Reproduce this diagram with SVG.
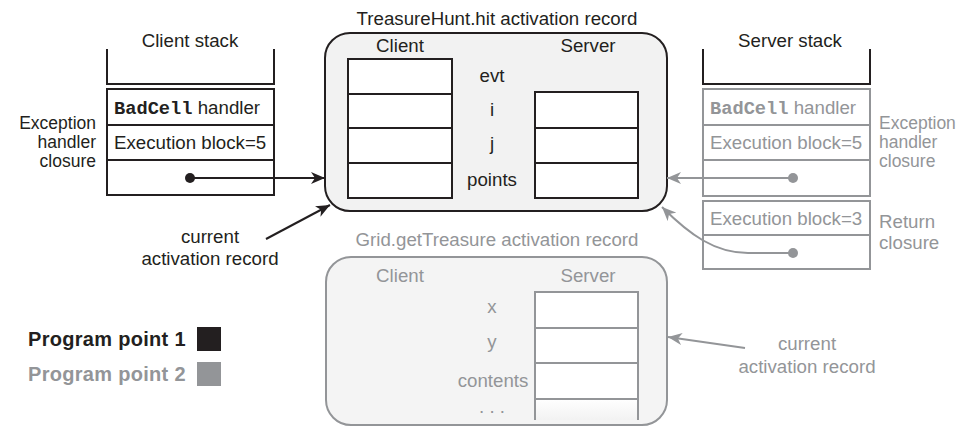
<svg xmlns="http://www.w3.org/2000/svg" width="966" height="427" viewBox="0 0 966 427">
<style>
text{font-family:"Liberation Sans",Arial,sans-serif;font-size:18.7px;fill:#231f20}
.g{fill:#939598}
.mid{text-anchor:middle}
.end{text-anchor:end}
.sm{font-size:17.5px}
.mono{font-family:"Liberation Mono","Courier New",monospace;font-weight:bold}
.bold{font-weight:bold;font-size:20px;letter-spacing:0.3px}
.dk{stroke:#231f20;stroke-width:2;fill:none}
.gr{stroke:#939598;stroke-width:2;fill:none}
</style>
<defs>
<marker id="ab" markerUnits="userSpaceOnUse" markerWidth="16" markerHeight="12" refX="14" refY="6" orient="auto">
<path d="M0,0 L14,6 L0,12 L4,6 z" fill="#231f20"/>
</marker>
<marker id="ag" markerUnits="userSpaceOnUse" markerWidth="16" markerHeight="12" refX="14" refY="6" orient="auto">
<path d="M0,0 L14,6 L0,12 L4,6 z" fill="#939598"/>
</marker>
<linearGradient id="fade" x1="0" y1="0" x2="0" y2="1">
<stop offset="0" stop-color="#fff"/>
<stop offset="1" stop-color="#f2f2f2"/>
</linearGradient>
</defs>

<g id="client-stack">
<text class="mid" x="190" y="47">Client stack</text>
<path class="dk" d="M107,49 V84 H274 V49"/>
<rect class="dk" x="107" y="89" width="167" height="106" style="fill:#fff"/>
<path class="dk" d="M107,125 H274 M107,160 H274"/>
<text x="114" y="114"><tspan class="mono">BadCell</tspan> handler</text>
<text x="114" y="149">Execution block=5</text>
<circle cx="190" cy="178" r="5" fill="#231f20"/>
<text class="end sm" x="96" y="129">Exception</text>
<text class="end sm" x="96" y="148">handler</text>
<text class="end sm" x="96" y="167">closure</text>
</g>

<g id="treasurehunt-record">
<text class="mid" x="497" y="25">TreasureHunt.hit activation record</text>
<rect class="dk" x="325" y="33" width="342" height="178" rx="25" style="fill:#f2f2f2"/>
<text class="mid" x="400" y="52">Client</text>
<text class="mid" x="588" y="52">Server</text>
<rect class="dk" x="348" y="59" width="104" height="139" style="fill:#fff"/>
<path class="dk" d="M348,94 H452 M348,128 H452 M348,163 H452"/>
<rect class="dk" x="535" y="92" width="103" height="106" style="fill:#fff"/>
<path class="dk" d="M535,128 H638 M535,163 H638"/>
<text class="mid" x="492" y="82">evt</text>
<text class="mid" x="492" y="116">i</text>
<text class="mid" x="492" y="150">j</text>
<text class="mid" x="492" y="186">points</text>
</g>

<g id="server-stack">
<text class="mid" x="790" y="47">Server stack</text>
<path class="dk" d="M703,49 V84 H870 V49"/>
<rect class="gr" x="703" y="89" width="167" height="107" style="fill:#fff"/>
<path class="gr" d="M703,125 H870 M703,160 H870"/>
<text class="g" x="710" y="114"><tspan class="mono g">BadCell</tspan> handler</text>
<text class="g" x="710" y="149">Execution block=5</text>
<circle cx="793" cy="178" r="5" fill="#939598"/>
<text class="g sm" x="879" y="129">Exception</text>
<text class="g sm" x="879" y="148">handler</text>
<text class="g sm" x="879" y="167">closure</text>
<rect class="gr" x="703" y="201" width="167" height="68" style="fill:#fff"/>
<path class="gr" d="M703,235 H870"/>
<text class="g" x="710" y="225">Execution block=3</text>
<circle cx="793" cy="253" r="5" fill="#939598"/>
<text class="g" x="879" y="228">Return</text>
<text class="g" x="879" y="249">closure</text>
</g>

<g id="gettreasure-record">
<text class="mid g" x="497" y="246">Grid.getTreasure activation record</text>
<rect class="gr" x="326" y="257" width="341" height="168" rx="25" style="fill:#f4f4f4"/>
<text class="mid g" x="400" y="282">Client</text>
<text class="mid g" x="588" y="282">Server</text>
<rect x="535" y="292" width="103" height="107" fill="#fff"/>
<rect x="535" y="399" width="103" height="21" fill="url(#fade)"/>
<path class="gr" d="M535,420 V292 H638 V420 M535,328 H638 M535,363 H638 M535,399 H638"/>
<text class="mid g" x="492" y="313">x</text>
<text class="mid g" x="492" y="348">y</text>
<text class="mid g" x="493" y="387">contents</text>
<text class="mid g" x="492" y="413">. . .</text>
</g>

<g id="labels">
<text class="mid" x="210" y="243">current</text>
<text class="mid" x="210" y="265">activation record</text>
<text class="mid g" x="807" y="350">current</text>
<text class="mid g" x="807" y="373">activation record</text>
</g>

<g id="legend">
<text class="bold" x="28" y="346">Program point 1</text>
<rect x="197" y="327" width="24" height="24" fill="#231f20"/>
<text class="bold g" x="28" y="381">Program point 2</text>
<rect x="197" y="362" width="24" height="24" fill="#939598"/>
</g>

<g id="connectors">
<path class="dk" d="M190,178 H325" marker-end="url(#ab)"/>
<path class="dk" d="M266,239 L330,205" marker-end="url(#ab)"/>
<path class="gr" d="M793,178 H667" marker-end="url(#ag)"/>
<path class="gr" d="M793,253 H748 C715,253 690,235 662,207" marker-end="url(#ag)"/>
<path class="gr" d="M745,348 L668,337" marker-end="url(#ag)"/>
</g>
</svg>
